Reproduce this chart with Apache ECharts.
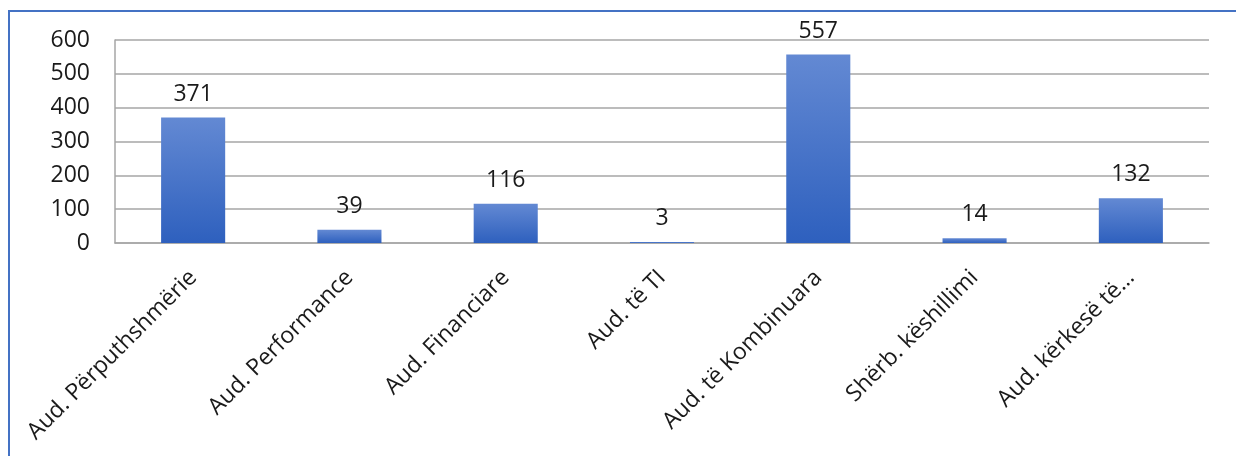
<!DOCTYPE html>
<html>
<head>
<meta charset="utf-8">
<script src="https://cdn.jsdelivr.net/npm/echarts@6/dist/echarts.min.js"></script>
<style>
html,body{margin:0;padding:0;background:#fff;}
#chart{width:1236px;height:456px;}
</style>
</head>
<body>
<div id="chart"></div>
<script>
const categories = ["Aud. Përputhshmërie", "Aud. Performance", "Aud. Financiare", "Aud. të TI", "Aud. të Kombinuara", "Shërb. këshillimi", "Aud. kërkesë të…"];
const values = [371, 39, 116, 3, 557, 14, 132];
const yTicks = { min: 0, max: 600, interval: 100 };

const chart = echarts.init(document.getElementById('chart'));
const font = "'Open Sans', 'Noto Sans', sans-serif";
chart.setOption({
  animation: false,
  backgroundColor: '#ffffff',
  graphic: [{
    type: 'rect',
    shape: { x: 9, y: 11, width: 1260, height: 480 },
    style: { fill: 'none', stroke: '#4472C4', lineWidth: 2 },
    silent: true
  }],
  grid: { left: 115, right: 27, top: 40, bottom: 213, containLabel: false },
  xAxis: {
    type: 'category',
    data: categories,
    axisLine: { show: true, lineStyle: { color: '#A6A6A6', width: 1.5 } },
    axisTick: { show: false },
    axisLabel: {
      rotate: 45,
      interval: 0,
      margin: 31,
      color: '#1a1a1a',
      fontSize: 23,
      fontFamily: font
    }
  },
  yAxis: {
    type: 'value',
    min: yTicks.min, max: yTicks.max, interval: yTicks.interval,
    axisLine: { show: true, lineStyle: { color: '#A6A6A6', width: 1.5 } },
    axisTick: { show: false },
    splitLine: { show: true, lineStyle: { color: '#A6A6A6', width: 1.5 } },
    axisLabel: { color: '#1a1a1a', fontSize: 23, fontFamily: font, margin: 25 }
  },
  series: [{
    type: 'bar',
    data: values,
    barWidth: '41%',
    itemStyle: {
      color: new echarts.graphic.LinearGradient(0, 0, 0, 1, [
        { offset: 0, color: '#6389D3' },
        { offset: 1, color: '#2E60BE' }
      ])
    },
    label: {
      show: true,
      position: 'top',
      distance: 12,
      color: '#1a1a1a',
      fontSize: 23,
      fontFamily: font
    }
  }]
});
</script>
</body>
</html>
